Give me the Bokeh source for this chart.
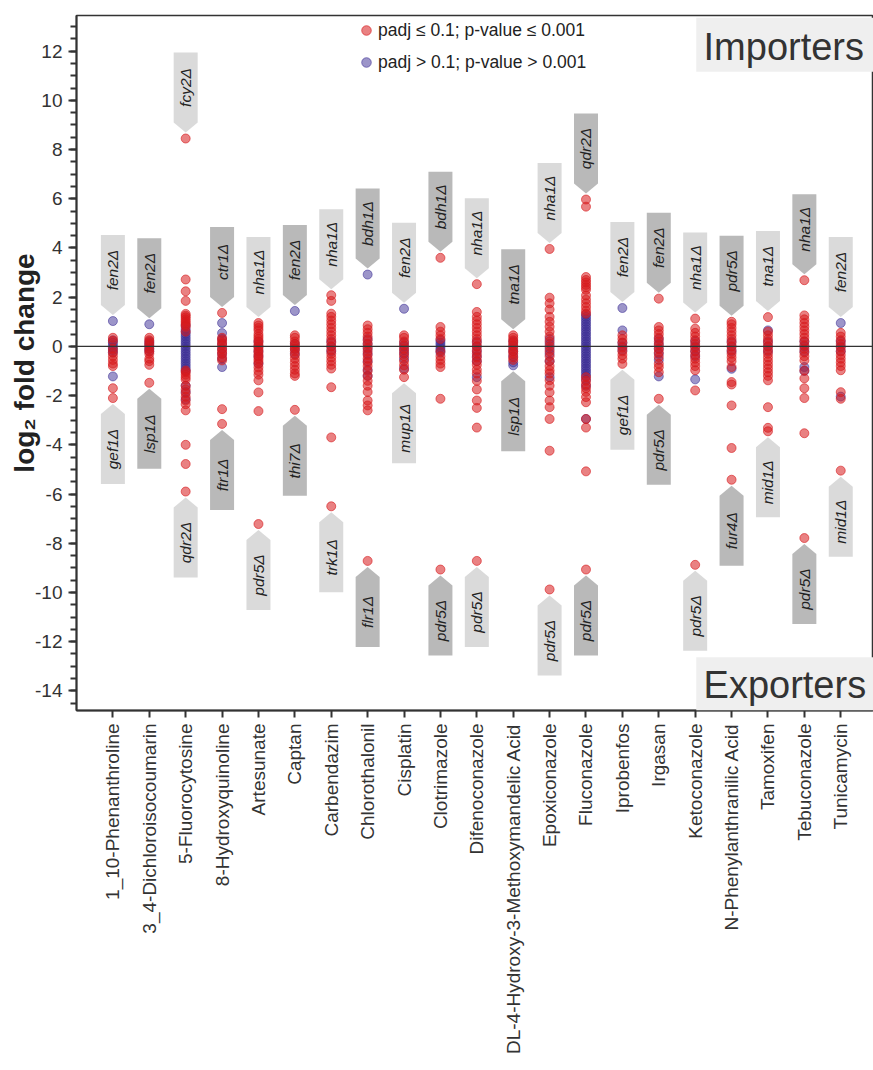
import numpy as np
from bokeh.plotting import figure
from bokeh.models import (FixedTicker, Span, Legend, LegendItem, BoxAnnotation,
                          Label, Range1d)
from bokeh.core.properties import value
from bokeh.embed import file_html
from bokeh.resources import INLINE

compounds = ["1_10-Phenanthroline", "3_4-Dichloroisocoumarin", "5-Fluorocytosine",
             "8-Hydroxyquinoline", "Artesunate", "Captan", "Carbendazim", "Chlorothalonil",
             "Cisplatin", "Clotrimazole", "Difenoconazole",
             "DL-4-Hydroxy-3-Methoxymandelic Acid", "Epoxiconazole", "Fluconazole",
             "Iprobenfos", "Irgasan", "Ketoconazole", "N-Phenylanthranilic Acid",
             "Tamoxifen", "Tebuconazole", "Tunicamycin"]

# significant (padj <= 0.1) log2 fold changes, per compound
red_lfc = [
    [0.35, 0.22, -0.1, -0.25, -0.4, -0.55, -0.7, -0.8, -1.7, -2.1],
    [0.35, 0.25, 0.15, 0.05, -0.1, -0.2, -0.3, -0.5, -0.6, -0.75, -1.48],
    [8.45, 2.72, 2.24, 1.85, 1.32, 1.25, 1.18, 1.1, 1.02, 0.95, 0.88, 0.8, 0.6, -0.98, -1.05,
     -1.15, -1.25, -1.35, -1.6, -1.75, -1.9, -2.05, -2.2, -2.35, -2.6, -4.0, -4.78, -5.9],
    [1.36, 0.35, 0.25, 0.15, 0.05, -0.1, -0.2, -0.3, -0.45, -0.57, -2.55, -3.15],
    [0.95, 0.85, 0.75, 0.65, 0.5, 0.4, 0.3, 0.2, 0.1, 0.0, -0.1, -0.2, -0.3, -0.4, -0.5, -0.6,
     -0.7, -0.85, -1.0, -1.15, -1.38, -1.87, -2.63, -7.22],
    [0.45, 0.35, 0.2, 0.1, 0.0, -0.1, -0.2, -0.35, -0.5, -0.65, -0.8, -0.95, -1.1, -1.2, -2.58],
    [2.08, 1.85, 1.33, 1.2, 1.05, 0.9, 0.75, 0.6, 0.45, 0.3, 0.15, 0.0, -0.15, -0.3, -0.45, -0.6,
     -0.75, -0.9, -1.66, -3.7, -6.5],
    [0.85, 0.7, 0.55, 0.4, 0.25, 0.1, -0.05, -0.2, -0.35, -0.5, -0.65, -0.8, -1.0, -1.2, -1.4,
     -1.6, -1.85, -2.2, -2.4, -2.6, -8.72],
    [0.45, 0.35, 0.2, 0.05, -0.1, -0.25, -0.4, -0.6, -0.77, -0.95, -1.25],
    [3.6, 0.79, 0.6, 0.45, 0.3, -0.2, -0.4, -0.55, -0.7, -0.84, -2.13, -9.07],
    [2.53, 1.4, 1.2, 1.05, 0.9, 0.75, 0.6, 0.45, 0.3, 0.15, 0.0, -0.15, -0.3, -0.45, -0.6, -0.75,
     -0.95, -1.1, -1.4, -1.75, -2.2, -2.5, -3.3, -8.72],
    [0.45, 0.35, 0.25, 0.15, 0.05, -0.1, -0.2, -0.3, -0.45, -0.55],
    [3.96, 1.98, 1.75, 1.5, 1.2, 1.0, 0.8, 0.6, 0.4, 0.2, 0.0, -0.2, -0.4, -0.6, -0.8, -0.97,
     -1.1, -1.38, -1.6, -1.87, -2.2, -2.47, -2.95, -4.24, -9.88],
    [5.97, 5.68, 2.82, 2.7, 2.6, 2.5, 2.4, 2.3, 2.07, 1.9, 1.75, 1.6, 1.45, 1.33, -1.25, -1.4,
     -1.55, -1.7, -1.85, -2.06, -2.27, -2.95, -3.3, -5.08, -9.07],
    [0.45, 0.3, 0.15, -0.05, -0.2, -0.35, -0.5, -0.71],
    [1.94, 0.79, 0.65, 0.5, 0.35, 0.2, 0.05, -0.1, -0.25, -0.43, -0.71, -0.85, -1.05, -2.13],
    [1.13, 0.72, 0.55, 0.4, 0.25, 0.1, -0.05, -0.2, -0.35, -0.5, -0.65, -0.8, -0.97, -1.79, -8.88],
    [1.0, 0.9, 0.75, 0.6, 0.45, 0.3, 0.15, 0.0, -0.15, -0.3, -0.45, -0.6, -0.84, -1.45, -1.55,
     -2.4, -4.13, -5.42],
    [1.19, 0.6, 0.45, 0.3, 0.15, 0.0, -0.15, -0.3, -0.45, -0.6, -0.75, -0.9, -1.05, -1.2, -1.38,
     -2.47, -3.31, -3.45],
    [2.69, 1.26, 1.1, 0.95, 0.8, 0.65, 0.5, 0.35, 0.2, 0.05, -0.1, -0.25, -0.4, -0.57, -0.98,
     -1.3, -1.7, -2.1, -3.53, -7.79],
    [0.55, 0.4, 0.25, 0.1, -0.05, -0.2, -0.35, -0.5, -0.65, -0.8, -0.97, -1.86, -2.13, -5.05],
]

# non-significant (padj > 0.1) log2 fold changes, per compound
blue_lfc = [
    [1.03, 0.25, 0.15, 0.05, -0.05, -0.15, -0.25, -1.22],
    [0.9, 0.2, 0.1, 0.0, -0.1, -0.2],
    [0.85, 0.7, 0.6, 0.5, 0.4, 0.3, 0.2, 0.1, 0.0, -0.1, -0.2, -0.3, -0.4, -0.5, -0.6, -0.7,
     -0.8, -0.9, -1.0, -1.6, -1.85, -2.15],
    [0.95, 0.54, 0.3, 0.1, -0.1, -0.3, -0.5, -0.84],
    [0.2, 0.0, -0.2, -0.4, -0.7],
    [1.44, 0.1, -0.1, -0.3],
    [0.2, 0.0, -0.2],
    [2.92, 0.3, 0.1, -0.1, -0.3, -0.6, -0.95, -1.2],
    [1.53, 0.15, 0.0, -0.15, -0.3, -0.5, -0.9],
    [0.25, 0.15, 0.05, -0.05, -0.15, -0.25],
    [0.2, 0.0, -0.2, -0.4, -0.6, -1.25],
    [0.2, 0.0, -0.2, -0.4, -0.65, -0.77],
    [0.3, 0.1, -0.1, -0.3, -0.6, -1.25],
    [1.3, 1.2, 1.1, 1.0, 0.9, 0.8, 0.7, 0.6, 0.5, 0.4, 0.3, 0.2, 0.1, 0.0, -0.1, -0.2, -0.3,
     -0.4, -0.5, -0.6, -0.7, -0.8, -0.9, -1.0, -1.1, -1.2, -1.35, -1.6, -2.95],
    [1.56, 0.65, 0.15, 0.0, -0.15],
    [0.3, 0.1, -0.1, -0.3, -0.55, -1.22],
    [0.2, 0.0, -0.2, -0.4, -1.34],
    [0.2, 0.0, -0.2, -0.91],
    [0.65, 0.2, 0.0, -0.2],
    [0.2, 0.0, -0.2, -0.84, -1.0],
    [0.95, 0.2, 0.0, -0.2, -2.04],
]

importer_genes = ["fen2Δ", "fen2Δ", "fcy2Δ", "ctr1Δ", "nha1Δ", "fen2Δ", "nha1Δ", "bdh1Δ",
                  "fen2Δ", "bdh1Δ", "nha1Δ", "tna1Δ", "nha1Δ", "qdr2Δ", "fen2Δ", "fen2Δ",
                  "nha1Δ", "pdr5Δ", "tna1Δ", "nha1Δ", "fen2Δ"]
exporter_genes = ["gef1Δ", "lsp1Δ", "qdr2Δ", "ftr1Δ", "pdr5Δ", "thi7Δ", "trk1Δ", "flr1Δ",
                  "mup1Δ", "pdr5Δ", "pdr5Δ", "lsp1Δ", "pdr5Δ", "pdr5Δ", "gef1Δ", "pdr5Δ",
                  "pdr5Δ", "fur4Δ", "mid1Δ", "pdr5Δ", "mid1Δ"]

y_ticks = list(range(-14, 13, 2))

# ---------------------------------------------------------------- layout
FONT = "Liberation Sans"
Y0, Y1 = -14.8, 13.45
X0, X1 = 0.0, 21.9
FW, FH = 797, 695
ypx = (Y1 - Y0) / FH
xpx = (X1 - X0) / FW

RED = "#d7191c"
BLUE = "#3a2c93"
LIGHT = "#dadada"
DARK = "#b9b9b9"
INK = "#333333"

p = figure(frame_width=FW, frame_height=FH, output_backend="svg", toolbar_location=None,
           x_range=Range1d(X0, X1), y_range=Range1d(Y0, Y1),
           min_border_left=76, min_border_right=0, min_border_top=15, min_border_bottom=0)
p.xgrid.visible = False
p.ygrid.visible = False
p.outline_line_color = INK
p.outline_line_width = 1.5
p.background_fill_color = "white"

# points
def flat(groups):
    xs, ys = [], []
    for i, g in enumerate(groups):
        xs += [i + 1] * len(g)
        ys += g
    return xs, ys

bx, by = flat(blue_lfc)
rx, ry = flat(red_lfc)
r_blue = p.scatter(bx, by, size=9, fill_color=BLUE, fill_alpha=0.5,
                   line_color=BLUE, line_alpha=0.55, line_width=1)
r_red = p.scatter(rx, ry, size=9, fill_color=RED, fill_alpha=0.55,
                  line_color=RED, line_alpha=0.6, line_width=1)

# callout arrows
pxs, pys, pcol, tx, ty, tt = [], [], [], [], [], []
hw = 12 * xpx
for i in range(len(compounds)):
    x = i + 1
    vals = red_lfc[i] + blue_lfc[i]
    hi, lo = max(vals), min(vals)
    col = LIGHT if i % 2 == 0 else DARK
    # importer (above)
    tip = hi + 6 * ypx
    base = tip + 10 * ypx
    top = base + 70 * ypx
    pxs.append([x - hw, x - hw, x, x + hw, x + hw])
    pys.append([top, base, tip, base, top])
    pcol.append(col)
    tx.append(x); ty.append((base + top) / 2); tt.append(importer_genes[i])
    # exporter (below)
    tip = lo - 6 * ypx
    base = tip - 10 * ypx
    bot = base - 70 * ypx
    pxs.append([x - hw, x - hw, x, x + hw, x + hw])
    pys.append([bot, base, tip, base, bot])
    pcol.append(col)
    tx.append(x); ty.append((base + bot) / 2); tt.append(exporter_genes[i])

p.patches(pxs, pys, fill_color=pcol, line_color=None)
p.text(tx, ty, text=tt, angle=np.pi / 2, text_align="center", text_baseline="middle",
       text_font=value(FONT), text_font_style="italic", text_font_size="15.5px",
       text_color="#222222")

# zero line
p.add_layout(Span(location=0, dimension="width", line_color=INK, line_width=1.3))

# Importers / Exporters boxes
p.add_layout(BoxAnnotation(left=17.03, right=X1, top=13.36, bottom=11.16,
                           fill_color="#efefef", fill_alpha=1.0, line_alpha=0))
p.add_layout(BoxAnnotation(left=17.03, right=X1, top=-12.64, bottom=Y0,
                           fill_color="#efefef", fill_alpha=1.0, line_alpha=0))
p.add_layout(Label(x=17.23, y=12.15, text="Importers", text_baseline="middle",
                   text_font=FONT, text_font_size="38px", text_color=INK))
p.add_layout(Label(x=17.23, y=-13.78, text="Exporters", text_baseline="middle",
                   text_font=FONT, text_font_size="38px", text_color=INK))

# legend
legend = Legend(items=[LegendItem(label="padj ≤ 0.1; p-value ≤ 0.001", renderers=[r_red]),
                       LegendItem(label="padj > 0.1; p-value > 0.001", renderers=[r_blue])],
                location=(278, 636), orientation="vertical",
                glyph_width=24, glyph_height=24, label_height=24, spacing=8,
                padding=0, margin=0, label_standoff=0,
                label_text_font=FONT, label_text_font_size="17.5px", label_text_color="#222222",
                border_line_alpha=0, background_fill_alpha=0)
p.add_layout(legend, "center")

# axes
p.yaxis.ticker = FixedTicker(ticks=y_ticks, minor_ticks=list(np.arange(-14.5, 13.01, 0.5)))
p.yaxis.major_label_overrides = {t: str(t) for t in y_ticks}
p.yaxis.axis_label = "log₂ fold change"
p.yaxis.axis_label_text_font = FONT
p.yaxis.axis_label_text_font_style = "bold"
p.yaxis.axis_label_text_font_size = "28px"
p.yaxis.axis_label_text_color = "#222222"
p.yaxis.axis_label_standoff = -8
p.yaxis.major_label_text_font = FONT
p.yaxis.major_label_text_font_size = "19px"
p.yaxis.major_label_text_color = INK
p.yaxis.major_label_standoff = 6
p.yaxis.major_tick_out = 8
p.yaxis.major_tick_in = 0
p.yaxis.minor_tick_out = 6
p.yaxis.minor_tick_in = 0

p.xaxis.ticker = FixedTicker(ticks=list(range(1, len(compounds) + 1)))
p.xaxis.major_label_overrides = {i + 1: c for i, c in enumerate(compounds)}
p.xaxis.major_label_orientation = np.pi / 2
p.xaxis.major_label_text_font = FONT
p.xaxis.major_label_text_font_size = "19px"
p.xaxis.major_label_text_color = INK
p.xaxis.major_label_standoff = 6
p.xaxis.major_tick_out = 7
p.xaxis.major_tick_in = 0
p.xaxis.minor_tick_out = 0

for ax in (p.xaxis, p.yaxis):
    ax.axis_line_color = INK
    ax.axis_line_width = 2
    ax.major_tick_line_color = INK
    ax.major_tick_line_width = 2
    ax.minor_tick_line_color = INK
    ax.minor_tick_line_width = 2

open("out.html", "w").write(file_html(p, INLINE))
